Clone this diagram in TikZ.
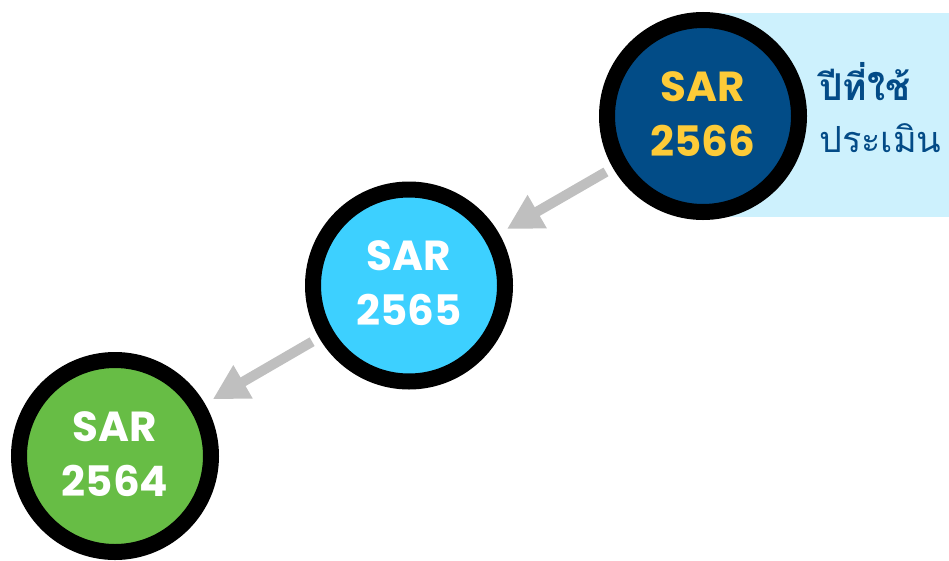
\documentclass[tikz,border=0pt]{standalone}
\usepackage{fontspec}
\setmainfont{Poppins}
\newfontfamily\thaifont[Script=Thai]{Loma}
\usetikzlibrary{arrows.meta}
\definecolor{darkblue}{HTML}{024C87}
\definecolor{skyblue}{HTML}{3DD0FF}
\definecolor{leafgreen}{HTML}{67BD45}
\definecolor{sargold}{HTML}{FDCB38}
\definecolor{arrowgray}{HTML}{BFBFBF}
\definecolor{panelblue}{HTML}{CDF1FD}
\definecolor{thaiblue}{HTML}{034B87}
\tikzset{
  sarnode/.style={circle, draw=black, line width=16pt, minimum size=192pt, inner sep=0pt,
    align=center, font=\fontsize{42}{55}\selectfont\bfseries},
  sartext/.style={inner sep=0pt, align=center, font=\fontsize{42}{55}\selectfont\bfseries},
  backarrow/.style={draw=arrowgray, line width=10pt, -{Triangle[length=35pt,width=36pt]},
    shorten <=8pt, shorten >=9pt}
}
\begin{document}
\begin{tikzpicture}[x=1pt,y=-1pt]
\useasboundingbox (0,0) rectangle (949,560);
\fill[panelblue] (703,13) rectangle (949,217);
\node[sarnode, fill=darkblue] (s66) at (703,116) {};
\node[sarnode, fill=skyblue] (s65) at (409,285.5) {};
\node[sarnode, fill=leafgreen] (s64) at (115,456) {};
\node[sartext, text=sargold] (l66) at (703,114) {SAR\\2566};
\node[sartext, text=white] (l65) at (409,283.5) {SAR\\2565};
\node[sartext, text=white] (l64) at (115,454) {SAR\\2564};
\draw[backarrow] (s66) -- (s65);
\draw[backarrow] (s65) -- (s64);
\node[anchor=base west, inner sep=0pt, text=thaiblue, font=\thaifont\fontsize{37}{37}\selectfont\bfseries] (t1) at (819,100) {ปีที่ใช้};
\node[anchor=base west, inner sep=0pt, text=thaiblue, font=\thaifont\fontsize{36}{36}\selectfont] (t2) at (819,152) {ประเมิน};
\end{tikzpicture}
\end{document}
